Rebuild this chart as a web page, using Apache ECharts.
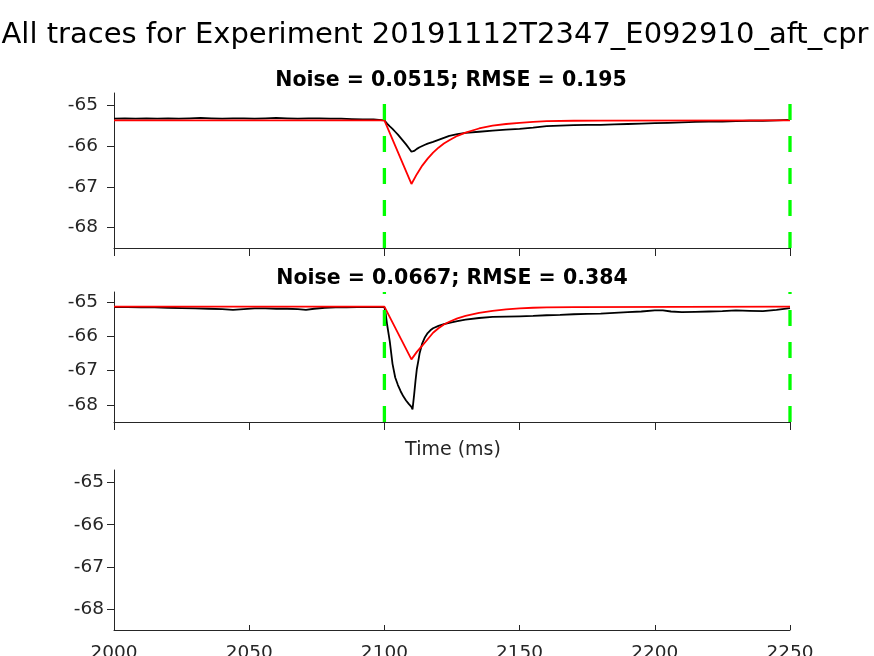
<!DOCTYPE html>
<html><head><meta charset="utf-8">
<script src="https://cdn.jsdelivr.net/npm/echarts@6/dist/echarts.min.js"></script>
<style>html,body{margin:0;padding:0;background:#fff}#c{width:874px;height:656px}</style>
</head><body><div id="c"></div>
<script>
const mainTitle = 'All traces for Experiment 20191112T2347_E092910_aft_cpr';
const subTitles = ['Noise = 0.0515; RMSE = 0.195', 'Noise = 0.0667; RMSE = 0.384'];
const xLabel = 'Time (ms)';
const xRange = [2000, 2250];
const xStep = 50;
const yRange = [-68.5, -64.7];
const yTicks = [-68, -67, -66, -65];
const markerTimes = [2100, 2250];

// Trace 1 (black data) as [time, mV]
const trace1 = [
  [2000,-65.33],[2004,-65.32],[2008,-65.33],[2012,-65.32],[2016,-65.33],[2020,-65.32],[2024,-65.33],
  [2028,-65.32],[2032,-65.31],[2036,-65.32],[2040,-65.33],[2044,-65.32],[2048,-65.32],[2052,-65.33],
  [2056,-65.32],[2060,-65.31],[2064,-65.32],[2068,-65.33],[2072,-65.32],[2076,-65.32],[2080,-65.33],
  [2084,-65.33],[2088,-65.34],[2092,-65.35],[2096,-65.35],[2100,-65.37],
  [2101,-65.45],[2102,-65.52],[2103,-65.58],[2104,-65.65],[2105,-65.72],[2106,-65.80],[2107,-65.88],
  [2108,-65.96],[2109,-66.05],[2110,-66.14],[2110.5,-66.16],[2111,-66.12],[2112,-66.07],[2113,-66.03],
  [2114,-66.00],[2115,-65.97],[2116,-65.94],[2118,-65.90],[2120,-65.85],[2122,-65.80],[2124,-65.75],
  [2127,-65.71],[2130,-65.68],[2135,-65.65],[2140,-65.62],[2145,-65.60],[2150,-65.58],[2155,-65.55],
  [2160,-65.51],[2165,-65.50],[2170,-65.49],[2175,-65.48],[2180,-65.48],[2185,-65.47],[2190,-65.46],
  [2195,-65.45],[2200,-65.44],[2205,-65.43],[2210,-65.42],[2215,-65.41],[2220,-65.40],[2225,-65.40],
  [2230,-65.39],[2235,-65.38],[2240,-65.38],[2245,-65.37],[2250,-65.36]
];
// Fit 1 (red)
const fit1 = [
  [2000,-65.37],[2100,-65.37],[2110,-66.93],[2112,-66.69],[2114,-66.48],[2116,-66.31],[2118,-66.16],
  [2120,-66.04],[2122,-65.94],[2124,-65.86],[2127,-65.75],[2130,-65.67],[2135,-65.57],[2140,-65.50],
  [2145,-65.46],[2150,-65.43],[2155,-65.41],[2160,-65.39],[2170,-65.38],[2180,-65.375],[2250,-65.37]
];
// Trace 2 (black data)
const trace2 = [
  [2000,-65.14],[2005,-65.14],[2010,-65.15],[2015,-65.15],[2020,-65.16],[2025,-65.17],[2030,-65.18],
  [2035,-65.19],[2040,-65.20],[2044,-65.22],[2048,-65.20],[2052,-65.18],[2056,-65.18],[2060,-65.19],
  [2064,-65.19],[2068,-65.20],[2071,-65.22],[2074,-65.19],[2078,-65.16],[2082,-65.15],[2086,-65.15],
  [2090,-65.14],[2095,-65.14],[2100,-65.14],[2100.5,-65.35],[2101,-65.65],[2102,-66.15],[2103,-66.80],
  [2104,-67.20],[2105,-67.42],[2106,-67.60],[2107,-67.75],[2108,-67.87],[2109,-67.97],[2110,-68.06],
  [2110.4,-68.13],[2111,-67.70],[2111.5,-67.30],[2112,-66.95],[2112.6,-66.69],[2113,-66.50],[2114,-66.20],
  [2115,-66.02],[2116,-65.90],[2117,-65.82],[2118,-65.76],[2120,-65.69],[2122,-65.64],[2124,-65.60],
  [2127,-65.55],[2130,-65.51],[2135,-65.46],[2140,-65.43],[2145,-65.42],[2150,-65.41],[2155,-65.40],
  [2160,-65.38],[2165,-65.37],[2170,-65.35],[2175,-65.34],[2180,-65.33],[2185,-65.31],[2190,-65.29],
  [2195,-65.27],[2200,-65.24],[2203,-65.24],[2206,-65.27],[2210,-65.29],[2215,-65.28],[2220,-65.27],
  [2225,-65.26],[2230,-65.24],[2235,-65.25],[2240,-65.26],[2245,-65.22],[2250,-65.17]
];
// Fit 2 (red)
const fit2 = [
  [2000,-65.13],[2100,-65.13],[2110,-66.67],[2112,-66.45],[2114,-66.27],[2116,-66.08],[2118,-65.89],
  [2120,-65.76],[2122,-65.65],[2124,-65.57],[2127,-65.47],[2130,-65.40],[2135,-65.31],[2140,-65.25],
  [2145,-65.21],[2150,-65.18],[2155,-65.16],[2160,-65.15],[2170,-65.14],[2250,-65.13]
];

const FONT = 'DejaVu Sans';
const AX = '#262626';
const grids = [
  {left:114, top:93, width:676, height:155, outerBoundsMode:'none', containLabel:false},
  {left:114, top:292, width:676, height:130, outerBoundsMode:'none', containLabel:false},
  {left:114, top:470, width:676, height:160, outerBoundsMode:'none', containLabel:false}
];
const xAxes = grids.map((g,i)=>({
  gridIndex:i, type:'value', min:xRange[0], max:xRange[1], interval:xStep,
  axisLine:{show:true, onZero:false, lineStyle:{color:AX, width:1}},
  axisTick:{show:true, inside:i===2, length:i===2?5:8, lineStyle:{color:AX, width:1}},
  axisLabel:{show:i===2, margin:14, color:AX, fontSize:18.5, fontFamily:FONT, formatter:v=>String(v)},
  splitLine:{show:false}
}));
const yAxes = grids.map((g,i)=>({
  gridIndex:i, type:'value', min:yRange[0], max:yRange[1],
  axisLine:{show:true, onZero:false, lineStyle:{color:AX, width:1}},
  axisTick:{show:true, inside:false, length:7, customValues:yTicks, lineStyle:{color:AX, width:1}},
  axisLabel:{show:true, customValues:yTicks, margin:i===2?10:16, color:AX, fontSize:18.5, fontFamily:FONT,
    formatter:v=>String(v)},
  splitLine:{show:false}
}));
const series = [];
[[trace1,fit1],[trace2,fit2]].forEach((pair,i)=>{
  series.push({type:'line', xAxisIndex:i, yAxisIndex:i, data:pair[0], showSymbol:false, symbol:'none',
    lineStyle:{color:'#000', width:1.8}, silent:true, z:2});
  series.push({type:'line', xAxisIndex:i, yAxisIndex:i, data:pair[1], showSymbol:false, symbol:'none',
    lineStyle:{color:'#ff0000', width:1.8}, silent:true, z:3});
  markerTimes.forEach(t=>{
    series.push({type:'line', xAxisIndex:i, yAxisIndex:i, data:[[t,yRange[0]],[t,yRange[1]]],
      showSymbol:false, symbol:'none', clip:false,
      lineStyle:{color:'#00ff00', width:3.3, type:[16,16]}, silent:true, z:4});
  });
});
function txt(text, x, y, size, weight, color){
  return {type:'text', x:x, y:y, silent:true,
    style:{text:text, font: weight+' '+size+'px "'+FONT+'"', fill:color, align:'center', verticalAlign:'middle',
      textAlign:'center', textVerticalAlign:'middle'}};
}
const chart = echarts.init(document.getElementById('c'), null, {renderer:'canvas'});
chart.setOption({
  animation:false,
  backgroundColor:'#fff',
  grid:grids, xAxis:xAxes, yAxis:yAxes, series:series,
  graphic:[
    txt(mainTitle, 435, 35, 29, 'normal', '#000'),
    txt(subTitles[0], 451, 81, 20.5, 'bold', '#000'),
    txt(subTitles[1], 452, 279, 20.5, 'bold', '#000'),
    txt(xLabel, 453, 450, 19, 'normal', AX)
  ]
});
</script></body></html>
